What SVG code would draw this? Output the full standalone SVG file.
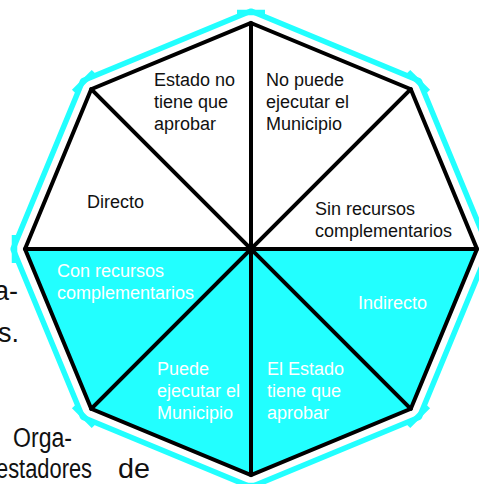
<svg xmlns="http://www.w3.org/2000/svg" width="479" height="484" viewBox="0 0 479 484">
<style>
.t{font-family:"Liberation Sans",Arial,sans-serif;font-size:18px;fill:#111}
.w{fill:#fff}
.bg{font-family:"Liberation Sans",Arial,sans-serif;font-size:27px;fill:#111}
.cy{fill:none;stroke:#22ffff;stroke-width:5.5;stroke-linejoin:bevel}
.cap{fill:#22ffff}
.sp{stroke:#000;stroke-width:4;fill:none;stroke-linecap:round}
</style>
<rect width="479" height="484" fill="#fff"/>
<g id="page-text">
<text class="bg" x="18" y="300" text-anchor="end">a-</text>
<text class="bg" x="19" y="342" text-anchor="end">es.</text>
<text class="bg" x="13" y="447" textLength="59" lengthAdjust="spacingAndGlyphs">Orga-</text>
<text class="bg" x="-4" y="478" textLength="96" lengthAdjust="spacingAndGlyphs">estadores</text>
<text class="bg" x="118" y="478" textLength="32" lengthAdjust="spacingAndGlyphs">de</text>
</g>
<g id="border">
<polygon class="cy" points="251,11 419.3,80.7 489,249 419.3,417.3 251,487 82.7,417.3 13,249 82.7,80.7"/>
<rect class="cap" x="237" y="9.75" width="28" height="5.5"/>
<rect class="cap" x="237" y="9.75" width="28" height="5.5" transform="rotate(45 251 249)"/>
<rect class="cap" x="237" y="9.75" width="28" height="5.5" transform="rotate(90 251 249)"/>
<rect class="cap" x="237" y="9.75" width="28" height="5.5" transform="rotate(135 251 249)"/>
<rect class="cap" x="237" y="9.75" width="28" height="5.5" transform="rotate(180 251 249)"/>
<rect class="cap" x="237" y="9.75" width="28" height="5.5" transform="rotate(225 251 249)"/>
<rect class="cap" x="237" y="9.75" width="28" height="5.5" transform="rotate(270 251 249)"/>
<rect class="cap" x="237" y="9.75" width="28" height="5.5" transform="rotate(315 251 249)"/>
</g>
<g id="octagon">
<polygon points="25,249 91.2,89.2 251,23 410.8,89.2 477,249" fill="#fff"/>
<polygon points="25,249 91.2,408.8 251,475 410.8,408.8 477,249" fill="#22ffff"/>
</g>
<g id="connectors">
<polygon class="sp" stroke-linejoin="miter" points="251,23 410.8,89.2 477,249 410.8,408.8 251,475 91.2,408.8 25,249 91.2,89.2"/>
<line class="sp" x1="251" y1="23" x2="251" y2="475"/>
<line class="sp" x1="25" y1="249" x2="477" y2="249"/>
<line class="sp" x1="91.2" y1="89.2" x2="410.8" y2="408.8"/>
<line class="sp" x1="410.8" y1="89.2" x2="91.2" y2="408.8"/>
</g>
<g id="n-estado-no">
<text class="t" x="154" y="86">Estado no</text>
<text class="t" x="154" y="108">tiene que</text>
<text class="t" x="154" y="130">aprobar</text>
</g>
<g id="n-no-puede">
<text class="t" x="266" y="86">No puede</text>
<text class="t" x="266" y="108">ejecutar el</text>
<text class="t" x="266" y="130">Municipio</text>
</g>
<g id="n-directo">
<text class="t" x="87" y="208">Directo</text>
</g>
<g id="n-sin-recursos">
<text class="t" x="315" y="215">Sin recursos</text>
<text class="t" x="315" y="237">complementarios</text>
</g>
<g id="n-con-recursos">
<text class="t w" x="57" y="277">Con recursos</text>
<text class="t w" x="57" y="299">complementarios</text>
</g>
<g id="n-indirecto">
<text class="t w" x="358" y="309">Indirecto</text>
</g>
<g id="n-puede">
<text class="t w" x="157" y="375">Puede</text>
<text class="t w" x="157" y="397">ejecutar el</text>
<text class="t w" x="157" y="419">Municipio</text>
</g>
<g id="n-el-estado">
<text class="t w" x="267" y="375">El Estado</text>
<text class="t w" x="267" y="397">tiene que</text>
<text class="t w" x="267" y="419">aprobar</text>
</g>
</svg>
